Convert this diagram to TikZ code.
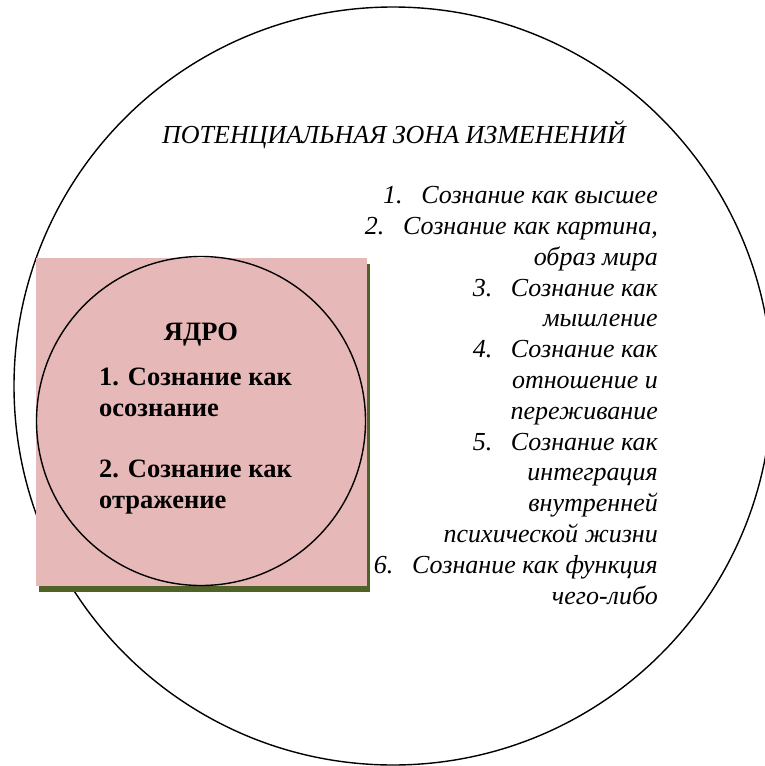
\documentclass[tikz,border=0pt]{standalone}
\usepackage{fontspec}
\setmainfont{Liberation Serif}
\usetikzlibrary{positioning,shadows}
\definecolor{corepink}{HTML}{E6B8B7}
\definecolor{coreshadow}{HTML}{4F6228}
\tikzset{
    zone/.style = {draw, circle, line width=1.4pt, minimum size=758pt, inner sep=0pt},
    coreblock/.style = {rectangle, fill=corepink, minimum width=331pt,
        minimum height=328pt, inner sep=0pt,
        drop shadow={shadow xshift=2.5pt, shadow yshift=-6pt, fill=coreshadow, opacity=1}},
    corecircle/.style = {draw, circle, line width=1.4pt, minimum size=329pt, inner sep=0pt},
    boldtext/.style = {font=\fontsize{26.5pt}{30.5pt}\selectfont\bfseries, inner sep=0pt, align=left},
    italtext/.style = {font=\fontsize{26pt}{30.8pt}\selectfont\itshape, inner sep=0pt, align=right}
}
\newcommand{\itemgap}{\hspace{0.72em}}

\begin{document}
\begin{tikzpicture}[x=1pt, y=-1pt]
        \useasboundingbox (0,0) rectangle (765,766);
        \node [zone] (zone) at (393,386) {};
        \node [coreblock] (core) at (201.5,422) {};
        \node [corecircle] (corecircle) at (201,421) {};
        \node [boldtext, anchor=base] (coretitle) at (201,340) {ЯДРО};
        \node [boldtext, anchor=base west] (corelist) at (99,508)
            {1. Сознание как\\осознание\\[31pt]2. Сознание как\\отражение};
        \node [italtext, anchor=base] (zonetitle) at (394,143) {ПОТЕНЦИАЛЬНАЯ ЗОНА ИЗМЕНЕНИЙ};
        \node [italtext, anchor=base east] (zonelist) at (658,604)
            {1.\itemgap Сознание как высшее\\
             2.\itemgap Сознание как картина,\\
             образ мира\\
             3.\itemgap Сознание как\\
             мышление\\
             4.\itemgap Сознание как\\
             отношение и\\
             переживание\\
             5.\itemgap Сознание как\\
             интеграция\\
             внутренней\\
             психической жизни\\
             6.\itemgap Сознание как функция\\
             чего-либо};
    \end{tikzpicture}
\end{document}
